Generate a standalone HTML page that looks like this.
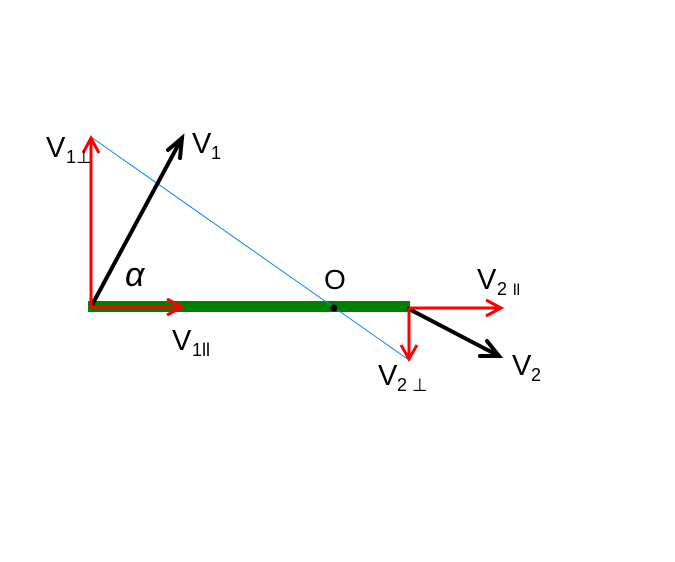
<!DOCTYPE html>
<html><head><style>
body{margin:0;background:#fff;}
svg{display:block;}
text{font-family:"Liberation Sans",sans-serif;fill:#000;}
</style></head><body>
<svg width="675" height="562" viewBox="0 0 675 562">
<rect x="88" y="301" width="322" height="11" fill="#008000"/>
<line x1="91" y1="137" x2="409" y2="360" stroke="#0a84ff" stroke-width="1"/>
<circle cx="334" cy="308" r="3.5" fill="#000"/>
<!-- black arrows -->
<g stroke="#000" stroke-width="4" fill="none" stroke-linecap="round">
<line x1="92" y1="305" x2="182" y2="138"/>
<polyline points="168,150 182,138 180,158"/>
<line x1="409" y1="309" x2="499" y2="356"/>
<polyline points="480,356 499,356 487,341"/>
</g>
<!-- red arrows -->
<g stroke="#f00" stroke-width="3" fill="none">
<line x1="91" y1="307" x2="91" y2="138"/>
<polyline points="83,153 91,138 99,153"/>
<line x1="91" y1="307" x2="182" y2="307"/>
<polyline points="167,299 182,307 167,315"/>
<line x1="409" y1="308" x2="501" y2="308"/>
<polyline points="486,300 501,308 486,316"/>
<line x1="409" y1="308" x2="409" y2="359"/>
<polyline points="401,345 409,359 417,345"/>
</g>
<text x="46" y="157" font-size="29">V</text><text x="66" y="163" font-size="18">1⊥</text>
<text x="192" y="153" font-size="29">V</text><text x="211" y="159" font-size="18">1</text>
<text x="125" y="286" font-size="34" font-family="Liberation Serif" font-style="italic">α</text>
<text x="172" y="350" font-size="29">V</text><text x="192" y="356" font-size="18">1ll</text>
<text x="324" y="289" font-size="28">O</text>
<text x="477" y="289" font-size="29">V</text><text x="497" y="295" font-size="18">2</text><text x="513" y="295" font-size="16">ll</text>
<text x="378" y="385" font-size="29">V</text><text x="397" y="391" font-size="18">2 ⊥</text>
<text x="512" y="375" font-size="29">V</text><text x="531" y="381" font-size="18">2</text>
</svg>
</body></html>
